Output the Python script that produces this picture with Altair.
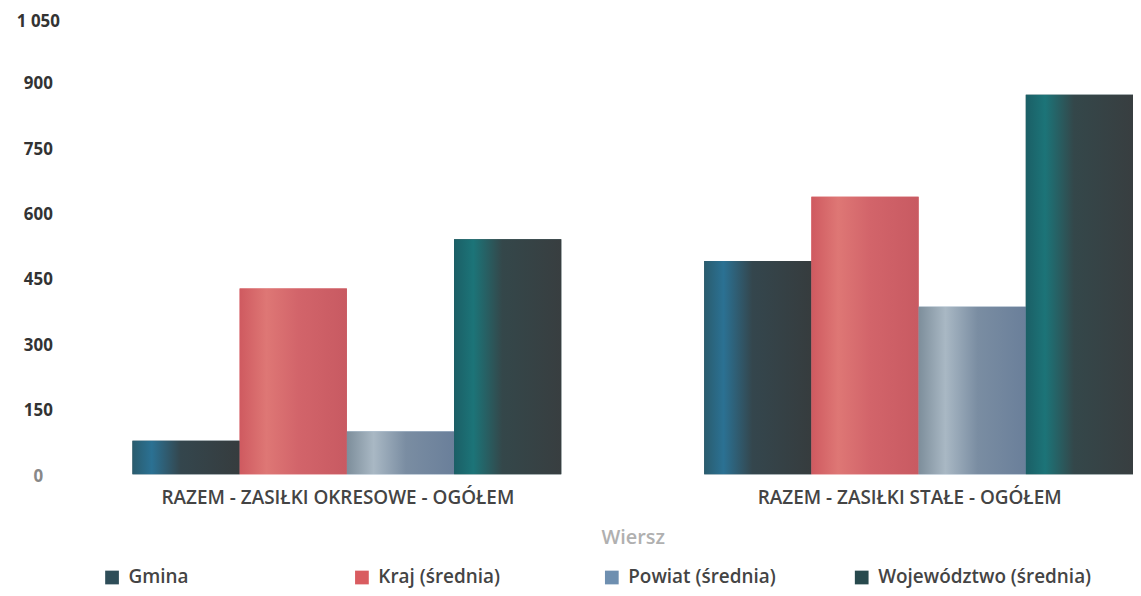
import altair as alt
import pandas as pd

categories = ["RAZEM -  ZASIŁKI OKRESOWE - OGÓŁEM", "RAZEM -  ZASIŁKI STAŁE - OGÓŁEM"]
series = ["Gmina", "Kraj (średnia)", "Powiat (średnia)", "Województwo (średnia)"]
okresowe = [77, 426, 98, 539]
stale = [489, 636, 384, 870]
y_ticks = [0, 150, 300, 450, 600, 750, 900, 1050]
solid_colors = ["#2e4d58", "#d95c60", "#6e8fb0", "#27494d"]
gradients = {
    "Gmina": [("#2a5c6e", 0.0), ("#2b7193", 0.18), ("#34464d", 0.45), ("#363c3e", 1.0)],
    "Kraj (średnia)": [("#cf5a60", 0.0), ("#de7775", 0.25), ("#d2646a", 0.55), ("#c85a62", 1.0)],
    "Powiat (średnia)": [("#7d8e9b", 0.0), ("#a9b8c4", 0.25), ("#7a8da2", 0.55), ("#6a7f9a", 1.0)],
    "Województwo (średnia)": [("#1b5f66", 0.0), ("#1c7478", 0.18), ("#34474a", 0.45), ("#383e40", 1.0)],
}

rows = []
for cat, vals in zip(categories, [okresowe, stale]):
    for s, v in zip(series, vals):
        rows.append({"Wiersz": cat, "series": s, "value": v})
df = pd.DataFrame(rows)

FONT = "Open Sans"

x_enc = alt.X(
    "Wiersz:N",
    sort=categories,
    scale=alt.Scale(paddingInner=0.25, paddingOuter=0),
    axis=alt.Axis(
        title="Wiersz",
        labelAngle=0,
        domain=False,
        ticks=False,
        labelFont=FONT,
        labelFontSize=19,
        labelFontWeight=600,
        labelColor="#444444",
        labelPadding=14,
        labelLimit=500,
        labelOffset=-9,
        titleFont=FONT,
        titleFontSize=20,
        titleFontWeight=600,
        titleColor="#b0b0b0",
        titlePadding=21,
    ),
)
xoff_enc = alt.XOffset("series:N", sort=series, scale=alt.Scale(domain=series, paddingInner=0, paddingOuter=0))
y_enc = alt.Y(
    "value:Q",
    scale=alt.Scale(domain=[0, 1050], nice=False),
    axis=alt.Axis(
        title=None,
        values=y_ticks,
        grid=False,
        domain=False,
        ticks=False,
        labelFont=FONT,
        labelFontSize=17,
        labelFontWeight=700,
        labelColor={"condition": {"test": "datum.value == 0", "value": "#888888"}, "value": "#333333"},
        labelAlign="center",
        labelPadding=95,
        labelOffset={"condition": {"test": "datum.value == 1050", "value": 5}, "value": 2},
        labelExpr="replace(format(datum.value, ','), ',', ' ')",
    ),
)

base = alt.Chart(df).mark_bar().encode(
    x=x_enc,
    xOffset=xoff_enc,
    y=y_enc,
    color=alt.Color(
        "series:N",
        sort=series,
        scale=alt.Scale(domain=series, range=solid_colors),
        legend=alt.Legend(
            title=None,
            orient="none",
            legendX=-30,
            legendY=554,
            direction="horizontal",
            columns=4,
            gridAlign="all",
            columnPadding=10,
            symbolType="square",
            symbolSize=190,
            symbolStrokeWidth=0,
            labelFont=FONT,
            labelFontSize=19,
            labelFontWeight=600,
            labelColor="#444444",
            labelOffset=7,
            labelLimit=300,
            padding=0,
        ),
    ),
)

layers = [base]
for s in series:
    grad = alt.LinearGradient(
        gradient="linear",
        stops=[alt.GradientStop(color=c, offset=o) for c, o in gradients[s]],
        x1=0, x2=1, y1=0, y2=0,
    )
    layers.append(
        alt.Chart(df).transform_filter(alt.datum.series == s).mark_bar(color=grad).encode(
            x=x_enc, xOffset=xoff_enc, y=y_enc
        )
    )

chart = alt.layer(*layers).properties(
    width=1005,
    height=460,
    background="white",
    autosize=alt.AutoSizeParams(type="none"),
    padding={"left": 125, "top": 7, "right": 0, "bottom": 113},
).configure_view(stroke=None)

chart.save("out.html", embed_options={"renderer": "svg", "actions": False})
